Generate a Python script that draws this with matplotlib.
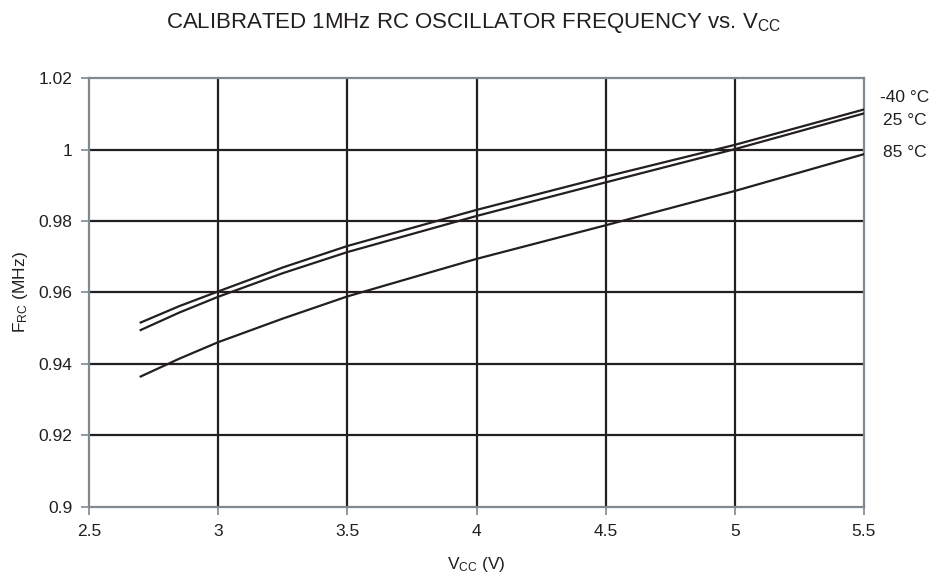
import matplotlib
matplotlib.use("Agg")
import matplotlib.pyplot as plt
from matplotlib.transforms import blended_transform_factory

plt.rcParams['font.family'] = ['Liberation Sans', 'DejaVu Sans']
plt.rcParams['mathtext.fontset'] = 'custom'
plt.rcParams['mathtext.rm'] = 'Liberation Sans'
plt.rcParams['mathtext.it'] = 'Liberation Sans'

vcc = [2.7, 2.85, 3.0, 3.25, 3.5, 4.0, 4.5, 5.0, 5.5]
f_m40 = [0.9516, 0.9562, 0.9603, 0.9670, 0.9730, 0.9831, 0.9924, 1.0013, 1.0112]
f_25 = [0.9495, 0.9544, 0.9588, 0.9654, 0.9713, 0.9814, 0.9908, 1.0001, 1.0101]
f_85 = [0.9365, 0.9415, 0.9461, 0.9527, 0.9589, 0.9694, 0.9788, 0.9884, 0.9987]
series = [("-40 °C", f_m40), ("25 °C", f_25), ("85 °C", f_85)]

xticks = [2.5, 3, 3.5, 4, 4.5, 5, 5.5]
xticklabels = ["2.5", "3", "3.5", "4", "4.5", "5", "5.5"]
yticks = [0.9, 0.92, 0.94, 0.96, 0.98, 1.0, 1.02]
yticklabels = ["0.9", "0.92", "0.94", "0.96", "0.98", "1", "1.02"]

fig = plt.figure(figsize=(9.46, 5.83), dpi=100)
ax = fig.add_axes([0.0941, 0.1304, 0.8192, 0.7358])

grid_c = '#231f20'
spine_c = '#808890'
for x in xticks[1:-1]:
    ax.axvline(x, color=grid_c, lw=1.6, zorder=1)
for y in yticks[1:-1]:
    ax.axhline(y, color=grid_c, lw=1.6, zorder=1)

for name, vals in series:
    ax.plot(vcc, vals, color=grid_c, lw=1.6, zorder=3)

ax.set_xlim(2.5, 5.5)
ax.set_ylim(0.9, 1.02)
ax.set_xticks(xticks)
ax.set_xticklabels(xticklabels)
ax.set_yticks(yticks)
ax.set_yticklabels(yticklabels)
for s in ax.spines.values():
    s.set_color(spine_c)
    s.set_linewidth(1.6)
ax.tick_params(axis='both', colors=spine_c, length=6, width=1.2, labelsize=12.5,
               labelcolor='#231f20', pad=6)

ax.set_xlabel(r'V$_{\mathregular{CC}}$ (V)', fontsize=12.5, color='#231f20', labelpad=12)
ax.set_ylabel(r'F$_{\mathregular{RC}}$ (MHz)', fontsize=12.5, color='#231f20', labelpad=6)
fig.text(0.5, 0.960, r'CALIBRATED 1MHz RC OSCILLATOR FREQUENCY vs. V$_{\mathregular{CC}}$',
         ha='center', va='center', fontsize=16, color='#231f20')

label_y = [1.0145, 1.0081, 0.9991]
label_x = [880, 883, 883]
trans = blended_transform_factory(fig.transFigure, ax.transData)
for (name, vals), ly, lx in zip(series, label_y, label_x):
    ax.text(lx / 946, ly, name, transform=trans,
            ha='left', va='center', fontsize=12.5, color='#231f20', clip_on=False)

fig.savefig("out.png", dpi=100)
